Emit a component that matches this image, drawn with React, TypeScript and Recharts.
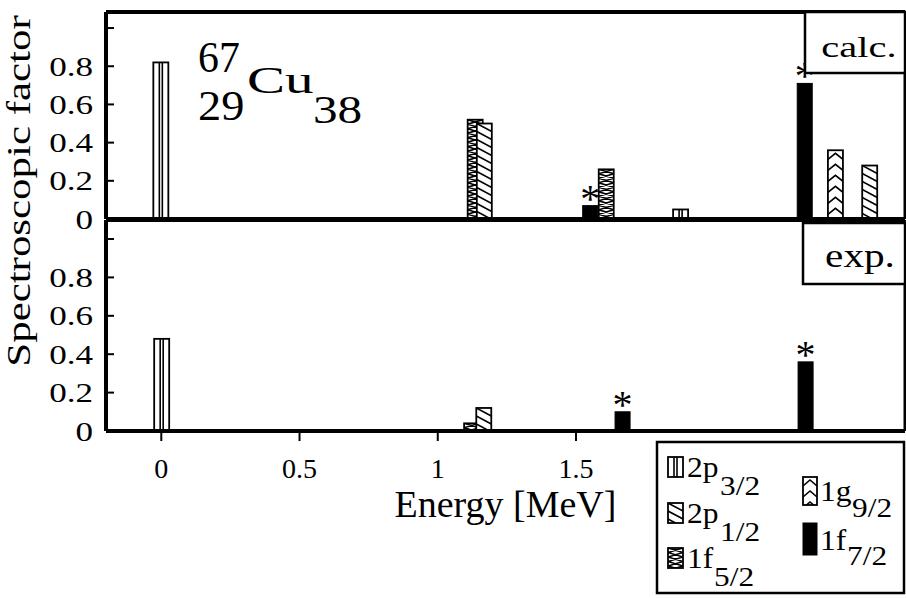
import React from 'react';
import { ComposedChart, Bar, XAxis, YAxis } from 'recharts';

const FONT = '"Liberation Serif", "Times New Roman", serif';

// axis ticks
const ENERGY_TICKS = [0, 0.5, 1, 1.5, 2, 2.5];
const ENERGY_LABEL_TICKS = [0, 0.5, 1, 1.5];
const SF_TICKS = [0, 0.2, 0.4, 0.6, 0.8, 1.0];
const ENERGY_DOMAIN = [-0.2, 2.69];

// series (draw order)
const SERIES_KEYS = ['p32', 'f52', 'p12', 'g92', 'f72'];

// calc. panel  (e = energy in MeV, v = spectroscopic factor)
const calcP32 = [{ e: 0, v: 0.82 }, { e: 1.88, v: 0.05 }];
const calcP12 = [{ e: 1.17, v: 0.5 }, { e: 2.564, v: 0.28 }];
const calcF52 = [{ e: 1.137, v: 0.52 }, { e: 1.611, v: 0.26 }];
const calcG92 = [{ e: 2.44, v: 0.36 }];
const calcF72 = [{ e: 1.553, v: 0.07 }, { e: 2.329, v: 0.71 }];

// exp. panel
const expP32 = [{ e: 0, v: 0.48 }];
const expP12 = [{ e: 1.165, v: 0.12 }];
const expF52 = [{ e: 1.121, v: 0.04 }];
const expG92: { e: number; v: number }[] = [];
const expF72 = [{ e: 1.667, v: 0.1 }, { e: 2.329, v: 0.36 }];

type Pt = { e: number; v: number };
function buildRows(sets: Record<string, Pt[]>) {
  const rows: any[] = [];
  Object.keys(sets).forEach((k) => sets[k].forEach((p) => rows.push({ e: p.e, [k]: p.v })));
  return rows.sort((a, b) => a.e - b.e);
}
const calcRows = buildRows({ p32: calcP32, p12: calcP12, f52: calcF52, g92: calcG92, f72: calcF72 });
const expRows = buildRows({ p32: expP32, p12: expP12, f52: expF52, g92: expG92, f72: expF72 });

const BAR_W = 15;

function Fill({ kind, x, y, w, h }: { kind: string; x: number; y: number; w: number; h: number }) {
  if (kind === 'f72') {
    return <rect x={x} y={y} width={w} height={h} fill="#000" stroke="#000" strokeWidth={1} />;
  }
  const items: any[] = [];
  if (kind === 'p32') {
    items.push(<line key="a" x1={w * 0.4} y1={0} x2={w * 0.4} y2={h} />);
    items.push(<line key="b" x1={w * 0.6} y1={0} x2={w * 0.6} y2={h} />);
  } else if (kind === 'p12') {
    const step = 8;
    const drop = 8;
    for (let k = -drop - step; k < h + step; k += step) {
      items.push(<line key={k} x1={0} y1={k} x2={w} y2={k + drop} />);
    }
  } else if (kind === 'f52') {
    const p = 9;
    let d = '';
    for (let k = 0; k < h + p; k += p) {
      d += `M0,${k} L${w},${k + p / 2} L0,${k + p} M${w},${k} L0,${k + p / 2} L${w},${k + p} `;
    }
    items.push(<path key="z" d={d} />);
  } else if (kind === 'g92') {
    const p = 11;
    let d = '';
    for (let k = 3; k < h + p; k += p) {
      d += `M0,${k + 6} L${w / 2},${k} L${w},${k + 6} `;
    }
    items.push(<path key="c" d={d} />);
  }
  return (
    <g>
      <svg x={x} y={y} width={w} height={h} overflow="hidden">
        <rect x={0} y={0} width={w} height={h} fill="#fff" />
        <g stroke="#000" strokeWidth={1.6} fill="none">
          {items}
        </g>
      </svg>
      <rect x={x} y={y} width={w} height={h} fill="none" stroke="#000" strokeWidth={1.8} />
    </g>
  );
}

const barShape = (kind: string) => (props: any) => {
  const { x, y, width, height } = props;
  if (!(height > 0.5)) return <g />;
  const cx = x + width / 2;
  return (
    <g>
      <Fill kind={kind} x={cx - BAR_W / 2} y={y} w={BAR_W} h={height} />
      {kind === 'f72' && (
        <text x={cx} y={y + 6} textAnchor="middle" fontFamily={FONT} fontSize={40} fill="#000">
          *
        </text>
      )}
    </g>
  );
};

function YTick(props: any) {
  const { x, y, payload } = props;
  const v = payload.value;
  if (v >= 1) return <g />;
  const label = v === 0 ? '0' : v.toFixed(1);
  return (
    <text
      transform={`translate(${x},${y + 9.5}) scale(1.3,1)`}
      textAnchor="end"
      fontFamily={FONT}
      fontSize={27}
      fill="#000"
    >
      {label}
    </text>
  );
}

function XTick(props: any) {
  const { x, y, payload } = props;
  return (
    <text x={x} y={y + 20} textAnchor="middle" fontFamily={FONT} fontSize={28} fill="#000">
      {String(payload.value)}
    </text>
  );
}

const AX = { stroke: '#000', strokeWidth: 4 };
const TL = { stroke: '#000', strokeWidth: 2 };

function Panel({ rows, yMax, bottomAxisHeight, height, marginTop, marginBottom, labels }: any) {
  return (
    <ComposedChart
      width={906}
      height={height}
      data={rows}
      margin={{ top: marginTop, right: 0, bottom: marginBottom, left: 46 }}
      barSize={BAR_W}
    >
      <XAxis
        xAxisId="t"
        orientation="top"
        type="number"
        dataKey="e"
        domain={ENERGY_DOMAIN}
        ticks={ENERGY_TICKS}
        interval={0}
        allowDataOverflow
        height={1}
        tick={false}
        tickSize={-9}
        axisLine={AX}
        tickLine={TL}
      />
      <XAxis
        xAxisId="b"
        orientation="bottom"
        type="number"
        dataKey="e"
        domain={ENERGY_DOMAIN}
        ticks={ENERGY_LABEL_TICKS}
        interval={0}
        allowDataOverflow
        height={bottomAxisHeight}
        tick={labels ? <XTick /> : false}
        tickLine={labels ? TL : false}
        tickSize={10}
        tickMargin={17}
        axisLine={AX}
        label={
          labels
            ? {
                content: (p: any) => {
                  const vb = p.viewBox || {};
                  return (
                    <text
                      x={vb.x + vb.width / 2}
                      y={vb.y + vb.height - 5}
                      textAnchor="middle"
                      fontFamily={FONT}
                      fontSize={38}
                      fill="#000"
                    >
                      Energy [MeV]
                    </text>
                  );
                },
              }
            : undefined
        }
      />
      <YAxis
        yAxisId="l"
        orientation="left"
        type="number"
        width={60}
        domain={[0, yMax]}
        ticks={SF_TICKS}
        interval={0}
        allowDataOverflow
        tick={<YTick />}
        tickSize={-8}
        tickMargin={21}
        axisLine={AX}
        tickLine={TL}
      />
      <YAxis
        yAxisId="r"
        orientation="right"
        type="number"
        width={1}
        domain={[0, yMax]}
        ticks={SF_TICKS}
        interval={0}
        allowDataOverflow
        tick={false}
        tickSize={-8}
        axisLine={{ stroke: '#000', strokeWidth: 3 }}
        tickLine={TL}
      />
      {SERIES_KEYS.map((k) => (
        <Bar
          key={k}
          dataKey={k}
          xAxisId="b"
          yAxisId="l"
          stackId="s"
          isAnimationActive={false}
          shape={barShape(k)}
        />
      ))}
    </ComposedChart>
  );
}

function ST({ x, y, sx = 1, size, anchor = 'start', children }: any) {
  return (
    <text
      transform={`translate(${x},${y}) scale(${sx},1)`}
      textAnchor={anchor}
      fontFamily={FONT}
      fontSize={size}
      fill="#000"
    >
      {children}
    </text>
  );
}

const LEGEND_ITEMS = [
  { k: 'p32', main: '2p', sub: '3/2', ix: 668, iy: 457, iw: 15, ih: 20, tx: 687, ty: 477, sy: 495, subx: 720 },
  { k: 'p12', main: '2p', sub: '1/2', ix: 668, iy: 503, iw: 15, ih: 20, tx: 687, ty: 523, sy: 541, subx: 720 },
  { k: 'f52', main: '1f', sub: '5/2', ix: 668, iy: 548, iw: 15, ih: 20, tx: 687, ty: 568, sy: 586, subx: 714 },
  { k: 'g92', main: '1g', sub: '9/2', ix: 803, iy: 477, iw: 14, ih: 28, tx: 820, ty: 501, sy: 517, subx: 852 },
  { k: 'f72', main: '1f', sub: '7/2', ix: 803, iy: 523, iw: 14, ih: 32, tx: 820, ty: 550, sy: 565, subx: 847 },
];

export default function App() {
  return (
    <div style={{ position: 'fixed', left: 0, top: 0, width: 906, height: 598, background: '#fff', overflow: 'hidden' }}>
      <div style={{ position: 'absolute', left: 0, top: 0 }}>
        <Panel rows={calcRows} yMax={1.084} height={240} marginTop={11} marginBottom={20} bottomAxisHeight={1} labels={false} />
      </div>
      <div style={{ position: 'absolute', left: 0, top: 200 }}>
        <Panel rows={expRows} yMax={1.099} height={330} marginTop={19} marginBottom={8} bottomAxisHeight={91} labels={true} />
      </div>
      <svg width={906} height={598} style={{ position: 'absolute', left: 0, top: 0, pointerEvents: 'none' }}>
        <text
          transform="translate(30,191) rotate(-90) scale(1.3,1)"
          textAnchor="middle"
          fontFamily={FONT}
          fontSize={33}
          fill="#000"
        >
          Spectroscopic factor
        </text>
        <ST x={198} y={72} size={44} sx={0.95}>67</ST>
        <ST x={198} y={120} size={43} sx={1.08}>29</ST>
        <ST x={247} y={93} size={38} sx={1.5}>Cu</ST>
        <ST x={313} y={123} size={41} sx={1.2}>38</ST>

        <rect x={805} y={12} width={100} height={61} fill="#fff" stroke="#000" strokeWidth={2.5} />
        <ST x={859} y={57} size={30} sx={1.35} anchor="middle">calc.</ST>
        <rect x={803} y={223} width={102} height={61} fill="#fff" stroke="#000" strokeWidth={2.5} />
        <ST x={860} y={267} size={33} sx={1.25} anchor="middle">exp.</ST>

        <rect x={657} y={442} width={247} height={151} fill="#fff" stroke="#000" strokeWidth={2.5} />
        {LEGEND_ITEMS.map((it) => (
          <g key={it.k}>
            <Fill kind={it.k} x={it.ix} y={it.iy} w={it.iw} h={it.ih} />
            <ST x={it.tx} y={it.ty} size={30} sx={1.05}>{it.main}</ST>
            <ST x={it.subx} y={it.sy} size={28} sx={1.12}>{it.sub}</ST>
          </g>
        ))}
      </svg>
    </div>
  );
}
